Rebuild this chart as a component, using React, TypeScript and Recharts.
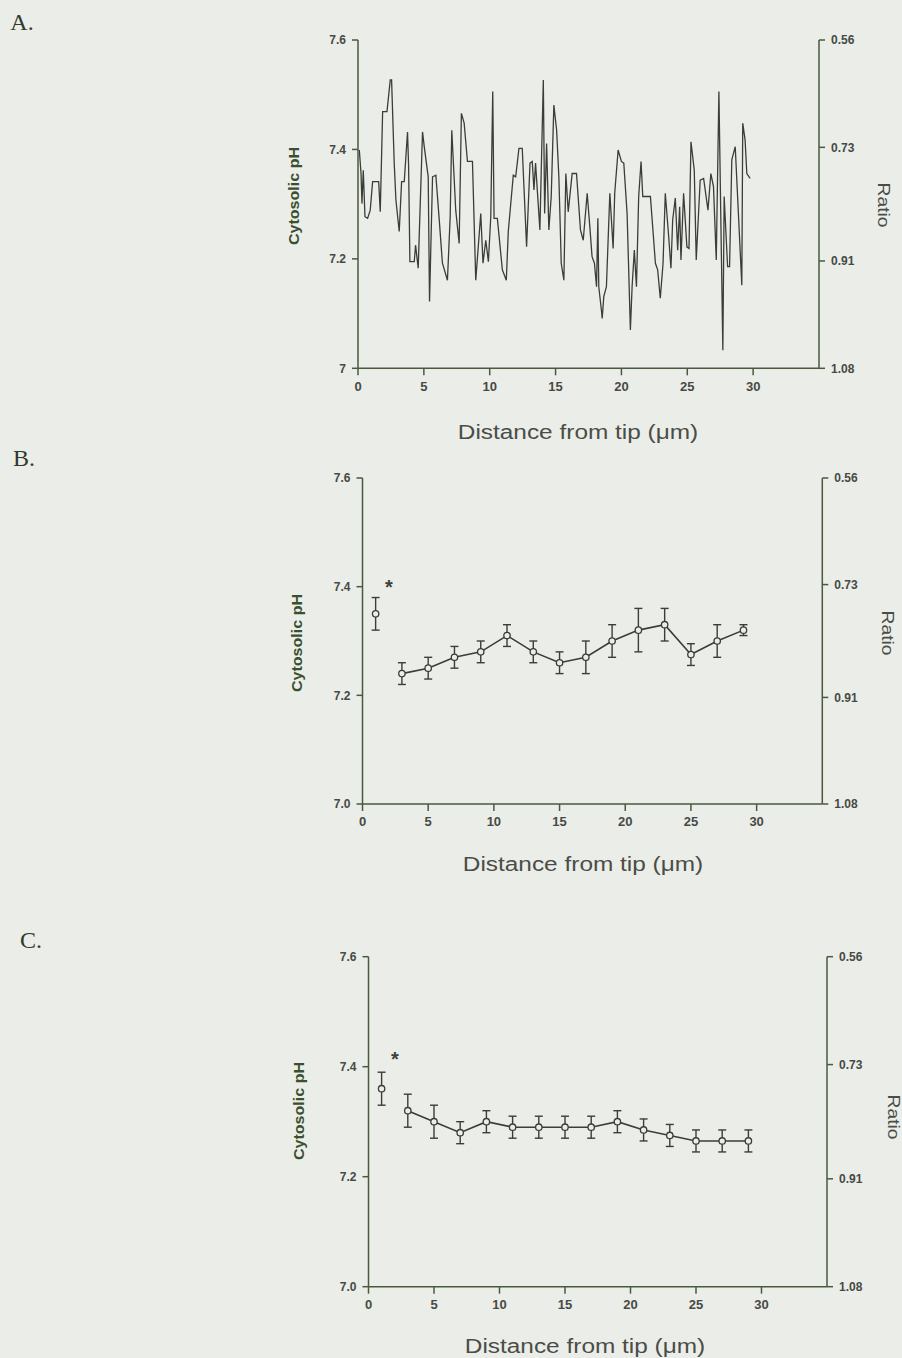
import React from 'react';
import { LineChart, Line, XAxis, YAxis, ErrorBar } from 'recharts';

// Panel A: single-cell profile (distance in µm, cytosolic pH)
const distA = [
  0.1, 0.23, 0.3, 0.4, 0.53, 0.73, 0.93, 1.11, 1.57, 1.69, 1.87, 2.2, 2.45, 2.55, 2.75, 2.88, 3.13, 3.31, 3.51, 3.76,
  3.84, 3.94, 4.27, 4.37, 4.57, 4.9, 5.03, 5.33, 5.43, 5.66, 5.91, 6.16, 6.41, 6.79, 7.0, 7.12, 7.42, 7.68, 7.85, 8.06,
  8.31, 8.69, 8.94, 9.32, 9.49, 9.7, 9.9, 10.08, 10.23, 10.33, 10.58, 10.96, 11.26, 11.41, 11.79, 11.97, 12.22, 12.47,
  12.8, 13.06, 13.23, 13.36, 13.48, 13.81, 14.07, 14.17, 14.32, 14.49, 14.67, 14.87, 15.08, 15.25, 15.43, 15.63, 15.78,
  15.96, 16.26, 16.59, 16.89, 17.1, 17.4, 17.6, 17.77, 17.95, 18.11, 18.21, 18.28, 18.48, 18.54, 18.66, 18.86, 19.12,
  19.37, 19.49, 19.75, 20.0, 20.18, 20.43, 20.68, 20.81, 20.98, 21.14, 21.31, 21.49, 21.62, 22.2, 22.58, 22.75, 22.95,
  23.16, 23.33, 23.59, 23.76, 23.89, 24.09, 24.27, 24.42, 24.52, 24.72, 24.97, 25.13, 25.28, 25.53, 25.68, 25.98, 26.24,
  26.57, 26.79, 26.99, 27.2, 27.4, 27.7, 27.8, 28.06, 28.21, 28.38, 28.64, 29.14, 29.21, 29.39, 29.52, 29.77,
];
const phA = [
  7.399, 7.356, 7.301, 7.362, 7.277, 7.274, 7.289, 7.341, 7.341, 7.286, 7.469, 7.469, 7.527, 7.527, 7.375, 7.307, 7.25,
  7.341, 7.341, 7.432, 7.371, 7.195, 7.195, 7.225, 7.183, 7.432, 7.405, 7.35, 7.122, 7.35, 7.353, 7.274, 7.192, 7.161,
  7.277, 7.435, 7.289, 7.228, 7.466, 7.448, 7.378, 7.378, 7.161, 7.283, 7.192, 7.234, 7.195, 7.277, 7.506, 7.274, 7.274,
  7.18, 7.161, 7.25, 7.353, 7.35, 7.402, 7.402, 7.222, 7.375, 7.378, 7.326, 7.375, 7.253, 7.527, 7.283, 7.411, 7.253,
  7.314, 7.481, 7.435, 7.35, 7.192, 7.161, 7.356, 7.286, 7.356, 7.356, 7.253, 7.234, 7.32, 7.259, 7.204, 7.192, 7.149,
  7.274, 7.149, 7.106, 7.091, 7.131, 7.149, 7.32, 7.219, 7.32, 7.399, 7.378, 7.375, 7.283, 7.07, 7.149, 7.216, 7.149,
  7.314, 7.378, 7.314, 7.314, 7.192, 7.18, 7.128, 7.192, 7.32, 7.24, 7.183, 7.271, 7.311, 7.216, 7.295, 7.198, 7.32,
  7.222, 7.219, 7.414, 7.362, 7.198, 7.344, 7.347, 7.289, 7.356, 7.332, 7.198, 7.506, 7.033, 7.314, 7.186, 7.186, 7.381,
  7.405, 7.152, 7.448, 7.417, 7.356, 7.347,
];

// Panels B and C: means ± error at 2 µm steps
const distBC = [1, 3, 5, 7, 9, 11, 13, 15, 17, 19, 21, 23, 25, 27, 29];
const phB = [7.35, 7.24, 7.25, 7.27, 7.28, 7.31, 7.28, 7.26, 7.27, 7.3, 7.32, 7.33, 7.275, 7.3, 7.32];
const errB = [0.03, 0.02, 0.02, 0.02, 0.02, 0.02, 0.02, 0.02, 0.03, 0.03, 0.04, 0.03, 0.02, 0.03, 0.01];
const phC = [7.36, 7.32, 7.3, 7.28, 7.3, 7.29, 7.29, 7.29, 7.29, 7.3, 7.285, 7.275, 7.265, 7.265, 7.265];
const errC = [0.03, 0.03, 0.03, 0.02, 0.02, 0.02, 0.02, 0.02, 0.02, 0.02, 0.02, 0.02, 0.02, 0.02, 0.02];

const xTicks = [0, 5, 10, 15, 20, 25, 30];
const phTicks = [7.0, 7.2, 7.4, 7.6];
const ratioTicks = [0.56, 0.73, 0.91, 1.08];

const BG = '#ebede9';
const AXIS = '#4a5a3c';
const INK = '#3a3d38';
const TICK_TEXT = '#464a44';

const dataA = distA.map((d, i) => ({ d, ph: phA[i] }));
const buildMeans = (ph: number[], err: number[]) =>
  distBC.map((d, i) => ({ d, ph: ph[i], err: err[i] }));
const meansB = buildMeans(phB, errB);
const meansC = buildMeans(phC, errC);

type Layout = { top: number; height: number; plotTop: number; plotBottom: number; plotLeft: number; plotRight: number };

const AX_W = 50;
const X_H = 30;

const margins = (l: Layout) => ({
  top: l.plotTop - l.top,
  bottom: l.top + l.height - l.plotBottom - X_H,
  left: l.plotLeft - AX_W,
  right: 902 - l.plotRight - AX_W,
});

const tickStyle = { fontFamily: 'Liberation Sans, Arial, sans-serif', fontSize: 12, fontWeight: 700, fill: TICK_TEXT };
const xTickStyle = { ...tickStyle, fontSize: 13 };

const Txt = ({ x, y, children, rot = 0, sx = 1, style }: any) => (
  <div
    style={{
      position: 'absolute',
      left: x,
      top: y,
      transform: `translate(-50%, -50%) rotate(${rot}deg) scaleX(${sx})`,
      whiteSpace: 'nowrap',
      lineHeight: 1,
      ...style,
    }}
  >
    {children}
  </div>
);

const letterStyle = { fontFamily: 'Liberation Serif, Times New Roman, serif', fontSize: 24, color: '#2f3a2a' };
const yTitle = { fontFamily: 'Liberation Sans, Arial, sans-serif', fontSize: 15, fontWeight: 700, color: '#3a4f2e' };
const rTitle = { fontFamily: 'Liberation Sans, Arial, sans-serif', fontSize: 16, color: '#4a4d47' };
const xTitle = { fontFamily: 'Liberation Sans, Arial, sans-serif', fontSize: 20, color: '#4a4d47' };
const star = { fontFamily: 'Liberation Sans, Arial, sans-serif', fontSize: 20, fontWeight: 700, color: '#3c3f3a' };

const commonAxes = (phFormat: (v: number) => string) => [
  <XAxis
    key="x"
    type="number"
    dataKey="d"
    domain={[0, 35]}
    ticks={xTicks}
    height={X_H}
    stroke={AXIS}
    strokeWidth={1.5}
    tickSize={7}
    tickMargin={6}
    tick={xTickStyle}
    allowDataOverflow
  />,
  <YAxis
    key="y"
    yAxisId="ph"
    type="number"
    domain={[7, 7.6]}
    ticks={phTicks}
    width={AX_W}
    stroke={AXIS}
    strokeWidth={1.5}
    tickSize={6}
    tickMargin={6}
    tick={tickStyle}
    tickFormatter={phFormat}
    allowDataOverflow
  />,
  <YAxis
    key="r"
    yAxisId="ratio"
    orientation="right"
    type="number"
    domain={[0.56, 1.08]}
    reversed
    ticks={ratioTicks}
    width={AX_W}
    stroke={AXIS}
    strokeWidth={1.5}
    tickSize={6}
    tickMargin={6}
    tick={tickStyle}
    tickFormatter={(v: number) => v.toFixed(2)}
    allowDataOverflow
  />,
];

const layoutA: Layout = { top: 0, height: 400, plotTop: 40, plotBottom: 368.3, plotLeft: 358, plotRight: 819 };
const layoutB: Layout = { top: 440, height: 400, plotTop: 478, plotBottom: 804, plotLeft: 362.5, plotRight: 822.3 };
const layoutC: Layout = { top: 920, height: 400, plotTop: 956.7, plotBottom: 1286.7, plotLeft: 368.5, plotRight: 827 };

const dotStyle = { r: 3.2, fill: BG, stroke: INK, strokeWidth: 1.3 };

const MeansChart = ({ layout, means }: { layout: Layout; means: { d: number; ph: number; err: number }[] }) => (
  <div style={{ position: 'absolute', left: 0, top: layout.top }}>
    <LineChart width={902} height={layout.height} margin={margins(layout)}>
      {commonAxes((v) => v.toFixed(1))}
      {/* tip value, not joined to the rest */}
      <Line
        yAxisId="ph"
        data={means.slice(0, 1)}
        dataKey="ph"
        stroke={INK}
        strokeWidth={1.6}
        dot={dotStyle}
        isAnimationActive={false}
      >
        <ErrorBar dataKey="err" direction="y" width={4} stroke={INK} strokeWidth={1.4} />
      </Line>
      <Line
        yAxisId="ph"
        data={means.slice(1)}
        dataKey="ph"
        type="linear"
        stroke={INK}
        strokeWidth={1.6}
        dot={dotStyle}
        isAnimationActive={false}
      >
        <ErrorBar dataKey="err" direction="y" width={4} stroke={INK} strokeWidth={1.4} />
      </Line>
    </LineChart>
  </div>
);

export default function App() {
  return (
    <div style={{ position: 'relative', width: 902, height: 1358, background: BG, overflow: 'hidden' }}>
      <style>{'body{margin:0}'}</style>

      {/* A */}
      <div style={{ position: 'absolute', left: 0, top: layoutA.top }}>
        <LineChart width={902} height={layoutA.height} data={dataA} margin={margins(layoutA)}>
          {commonAxes((v) => (v === 7 ? '7' : v.toFixed(1)))}
          <Line
            yAxisId="ph"
            dataKey="ph"
            type="linear"
            stroke={INK}
            strokeWidth={1.3}
            dot={false}
            isAnimationActive={false}
          />
        </LineChart>
      </div>
      <Txt x={22} y={22} style={letterStyle}>A.</Txt>
      <Txt x={293} y={196} rot={-90} sx={1.07} style={yTitle}>Cytosolic pH</Txt>
      <Txt x={883} y={205} rot={90} sx={1.2} style={rTitle}>Ratio</Txt>
      <Txt x={578} y={432} sx={1.22} style={xTitle}>Distance from tip (μm)</Txt>

      {/* B */}
      <MeansChart layout={layoutB} means={meansB} />
      <Txt x={24} y={458} style={letterStyle}>B.</Txt>
      <Txt x={296} y={643} rot={-90} sx={1.07} style={yTitle}>Cytosolic pH</Txt>
      <Txt x={887} y={633} rot={90} sx={1.2} style={rTitle}>Ratio</Txt>
      <Txt x={583} y={864} sx={1.22} style={xTitle}>Distance from tip (μm)</Txt>
      <Txt x={389} y={587} style={star}>*</Txt>

      {/* C */}
      <MeansChart layout={layoutC} means={meansC} />
      <Txt x={31} y={940} style={letterStyle}>C.</Txt>
      <Txt x={298} y={1111} rot={-90} sx={1.07} style={yTitle}>Cytosolic pH</Txt>
      <Txt x={893} y={1117} rot={90} sx={1.2} style={rTitle}>Ratio</Txt>
      <Txt x={585} y={1346} sx={1.22} style={xTitle}>Distance from tip (μm)</Txt>
      <Txt x={395} y={1059} style={star}>*</Txt>
    </div>
  );
}
